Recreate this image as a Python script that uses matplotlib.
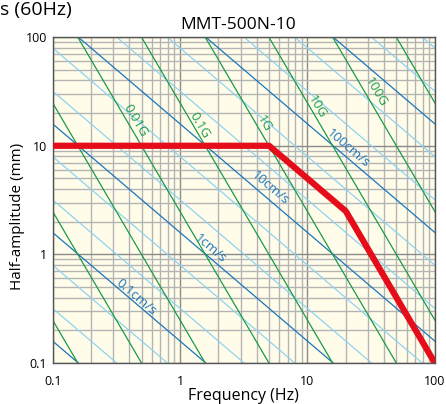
import matplotlib.pyplot as plt
import numpy as np

plt.rcParams['font.family'] = ['Open Sans', 'DejaVu Sans']

# performance curve of the shaker
curve_f = [0.1, 5, 20, 50, 100]
curve_a = [10, 10, 2.5, 0.4, 0.1]

# constant acceleration lines (G) and constant velocity lines (cm/s)
g_levels = [1e-5, 1e-4, 1e-3, 1e-2, 1e-1, 1, 10, 100, 1000]
v_major = [0.001, 0.01, 0.1, 1, 10, 100, 1000, 10000]
v_minor = [0.002, 0.005, 0.02, 0.05, 0.2, 0.5, 2, 5, 20, 50, 200, 500, 2000, 5000]

g_labels = ['0.01G', '0.1G', '1G', '10G', '100G']
g_label_pos = [(0.443, 17.2), (1.43, 15.5), (4.56, 16.1), (11.9, 22.9), (34.3, 31.4)]
v_labels = ['100cm/s', '10cm/s', '1cm/s', '0.1cm/s']
v_label_pos = [(20.9, 9.46), (5.08, 4.07), (1.72, 1.14), (0.456, 0.408)]

xticks = [0.1, 1, 10, 100]
xticklabels = ['0.1', '1', '10', '100']
yticks = [0.1, 1, 10, 100]
yticklabels = ['0.1', '1', '10', '100']

green = '#1a9a48'
dblue = '#1b75bc'
lblue = '#8fd2f2'

fig = plt.figure(figsize=(4.46, 4.04), dpi=100)
ax = fig.add_axes([0.118, 0.1015, 0.857, 0.8065])
ax.set_facecolor('#fffdea')
ax.set_xscale('log')
ax.set_yscale('log')
ax.set_xlim(0.1, 100)
ax.set_ylim(0.1, 100)

ax.grid(which='major', color='#8a8a8a', lw=1.0, zorder=0)
ax.grid(which='minor', color='#b4b4b4', lw=1.0, zorder=0)
ax.set_axisbelow(True)

f = np.array([0.05, 200.0])
w = 2 * np.pi * f
for v in v_minor:
    ax.plot(f, 10 * v / w, color=lblue, lw=0.9, zorder=1)
for v in v_major:
    ax.plot(f, 10 * v / w, color=dblue, lw=0.9, zorder=2)
for g in g_levels:
    ax.plot(f, 9806.65 * g / w**2, color=green, lw=0.9, zorder=2)

ax.plot(curve_f, curve_a, color='#e60d1b', lw=4.5, solid_joinstyle='round', zorder=5)

# rotation angles in screen space
ax_w = 0.857 * 446
ax_h = 0.8065 * 404
ang_v = -np.degrees(np.arctan((ax_h / 3) / (ax_w / 3)))
ang_g = -np.degrees(np.arctan((2 * ax_h / 3) / (ax_w / 3)))
for lab, (x, y) in zip(g_labels, g_label_pos):
    ax.text(x, y, lab, color=green, fontsize=9.5, rotation=ang_g,
            rotation_mode='anchor', ha='center', va='center', zorder=4)
for lab, (x, y) in zip(v_labels, v_label_pos):
    ax.text(x, y, lab, color=dblue, fontsize=9.5, rotation=ang_v,
            rotation_mode='anchor', ha='center', va='center', zorder=4)

ax.set_xticks(xticks)
ax.set_xticklabels(xticklabels)
ax.set_yticks(yticks)
ax.set_yticklabels(yticklabels)
ax.tick_params(which='both', length=0, labelsize=9, pad=4)
ax.tick_params(axis='x', pad=9)
for s in ax.spines.values():
    s.set_color('#555555')
    s.set_linewidth(1.0)

ax.set_xlabel('Frequency (Hz)', fontsize=11.5, labelpad=0)
ax.set_ylabel('Half-amplitude (mm)', fontsize=11)
ax.yaxis.set_label_coords(-0.072, 0.45)
ax.set_title('MMT-500N-10', fontsize=12.5, pad=6, x=0.485)
fig.text(0.0, 0.962, 's (60Hz)', fontsize=14, va='baseline', ha='left')

plt.savefig('out.png', dpi=100)
